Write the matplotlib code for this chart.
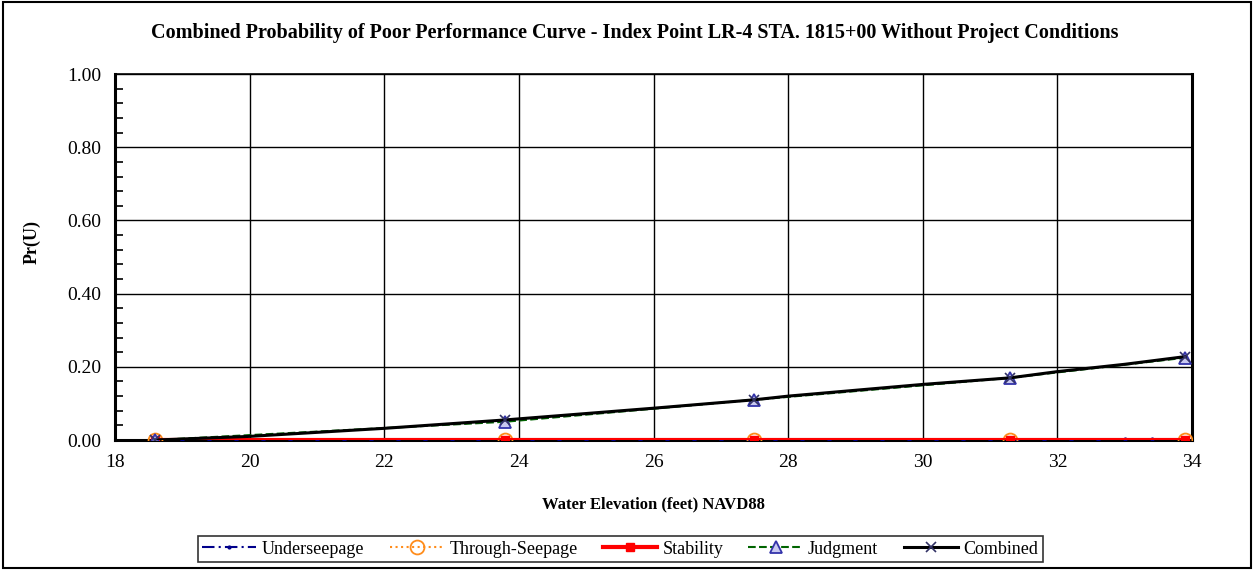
import numpy as np
import matplotlib as mpl
mpl.use('Agg')
from matplotlib import pyplot as plt
from matplotlib.ticker import MultipleLocator
from matplotlib.patches import Rectangle

# elevations where each failure mode was evaluated
elev_pts = [18.6, 23.8, 27.5, 31.3, 33.9]
through_seepage = [0.0, 0.0, 0.0, 0.0, 0.0]
stability = [0.0, 0.0, 0.0, 0.0, 0.0]
judgment = [0.0, 0.05, 0.11, 0.17, 0.225]

# underseepage is evaluated on a finer set of elevations
elev_under = [18.6, 19.0, 19.4, 19.8, 20.2, 20.6, 21.0, 21.4, 21.8, 22.2, 22.6,
              23.0, 23.4, 23.8, 24.2, 24.6, 25.0, 25.4, 25.8, 26.2, 26.6, 27.0,
              27.4, 27.8, 28.2, 28.6, 29.0, 29.4, 29.8, 30.2, 30.6, 31.0, 31.4,
              31.8, 32.2, 32.6, 33.0, 33.4, 33.9]
underseepage = [0.0, 0.0, 0.0, 0.0, 0.0, 0.0, 0.0, 0.0, 0.0, 0.0, 0.0,
                0.0, 0.0, 0.0, 0.0, 0.0, 0.0, 0.0, 0.0, 0.0, 0.0, 0.0,
                0.0, 0.0, 0.0, 0.0, 0.0, 0.0, 0.0, 0.0, 0.0, 0.0, 0.0,
                0.0, 0.0, 0.001, 0.002, 0.002, 0.002]

# combined curve
elev_comb = [18.6, 20.0, 22.0, 23.8, 26.0, 27.5, 28.0, 30.0, 31.3, 32.0, 33.0, 33.9]
combined = [0.0, 0.01, 0.032, 0.055, 0.087, 0.11, 0.12, 0.152, 0.17, 0.187, 0.207, 0.228]
comb_marks = [0, 3, 5, 8, 11]

plt.rcParams['font.family'] = ['Liberation Serif', 'DejaVu Serif']

fig = plt.figure(figsize=(12.54, 5.70), dpi=100)
ax = fig.add_axes([0.0917, 0.228, 0.8589, 0.642])

ax.plot(elev_under, underseepage, color='#00008B', linestyle=(0, (6, 2, 1, 2)),
        linewidth=1.5, marker='.', markersize=4, label='Underseepage', zorder=3)
ax.plot(elev_pts, through_seepage, color='#FF8C1A', linestyle=':', linewidth=1.5,
        marker='o', markersize=10, markerfacecolor='none', markeredgewidth=1.3,
        label='Through-Seepage', zorder=4)
ax.plot(elev_pts, stability, color='#FF0000', linestyle='-', linewidth=3,
        marker='s', markersize=6, label='Stability', zorder=5)
ax.plot(elev_pts, judgment, color='#006400', linestyle='--', linewidth=1.5,
        marker='^', markersize=9, markerfacecolor='#C8C8F0', markeredgecolor='#3333AA',
        markeredgewidth=1.3, label='Judgment', zorder=6)
ax.plot(elev_comb, combined, color='black', linestyle='-', linewidth=2.2,
        marker='x', markersize=7, markevery=comb_marks, markeredgecolor='#333366',
        markeredgewidth=1.2, label='Combined', zorder=7)

ax.set_xlim(18, 34)
ax.set_ylim(0, 1)
ax.xaxis.set_major_locator(MultipleLocator(2))
ax.yaxis.set_major_locator(MultipleLocator(0.2))
ax.yaxis.set_minor_locator(MultipleLocator(0.04))
ax.yaxis.set_major_formatter(mpl.ticker.FormatStrFormatter('%.2f'))
ax.grid(True, which='major', color='black', linewidth=1)
ax.tick_params(axis='both', which='major', labelsize=14, length=0, pad=10)
ax.tick_params(axis='y', which='minor', direction='in', length=6, width=1.2)
for side in ['left', 'bottom', 'right', 'top']:
    ax.spines[side].set_linewidth(2.2 if side != 'top' else 1.2)

ax.set_xlabel('Water Elevation (feet) NAVD88', fontsize=12, fontweight='bold', labelpad=18)
ax.set_ylabel('Pr(U)', fontsize=13, fontweight='bold')
ax.yaxis.set_label_coords(-0.069, 0.541)
fig.text(0.506, 0.942, 'Combined Probability of Poor Performance Curve - Index Point LR-4 STA. 1815+00 Without Project Conditions',
         ha='center', va='center', fontsize=14.5, fontweight='bold')

leg = ax.legend(loc='center', bbox_to_anchor=(0.469, -0.298), ncol=5, fontsize=13,
                frameon=True, fancybox=False, edgecolor='black', handlelength=3,
                handletextpad=0.3, columnspacing=1.4, borderpad=0.25)
leg.get_frame().set_linewidth(1.2)

# outer border around the chart
fig.patches.append(Rectangle((0.002, 0.003), 0.996, 0.994, transform=fig.transFigure,
                             fill=False, edgecolor='black', linewidth=1.5))

fig.savefig('out.png', dpi=100)
